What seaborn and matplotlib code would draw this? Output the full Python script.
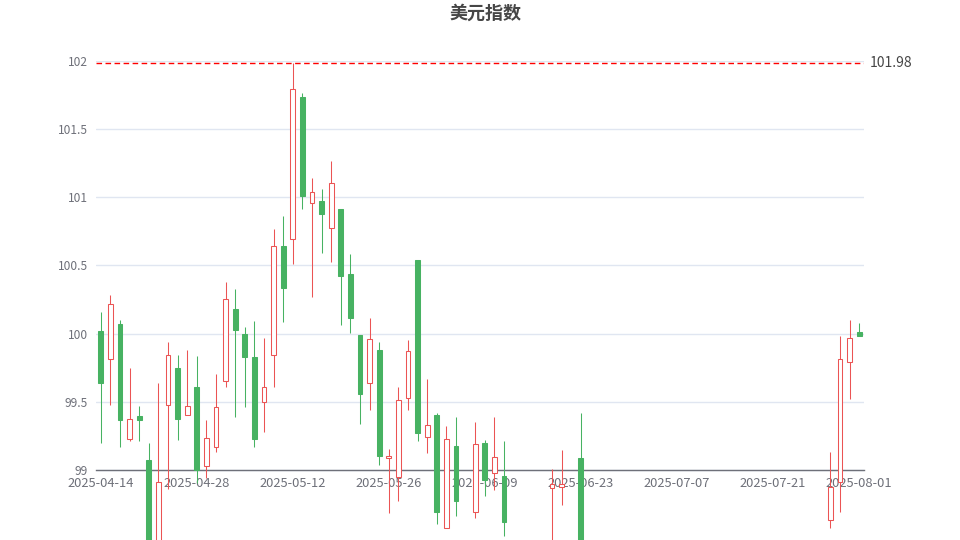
import numpy as np
import pandas as pd
import seaborn as sns
import matplotlib.pyplot as plt
from matplotlib.transforms import blended_transform_factory

# ===============================
# Data: US dollar index daily candles
# None = candle not visible in the picture (outside the drawn range)
# ===============================
dates = pd.bdate_range("2025-04-14", "2025-08-01").strftime("%Y-%m-%d").tolist()

open_ = [100.02, 99.81, 100.07, 99.23, 99.395, 99.075, 98.30, 99.475, 99.745, 99.405,
         99.61, 99.03, 99.165, 99.65, 100.18, 100.00, 99.83, 99.50, 99.845, 100.645,
         100.69, 101.735, 100.955, 100.975, 100.775, 100.91, 100.435, 99.99, 99.64, 99.88,
         99.085, 98.95, 99.525, 100.54, 99.24, 99.405, 98.575, 99.175, None, 98.69,
         99.195, 98.975, 98.955, None, None, None, None, 98.865, 98.875, None,
         99.09, None, None, None, None, None, None, None, None, None,
         None, None, None, None, None, None, None, None, None, None,
         None, None, None, None, None, None, 98.63, 98.915, 99.795, 100.01]

high = [100.16, 100.28, 100.10, 99.745, 99.47, 99.20, 99.64, 99.935, 99.84, 99.88,
        99.835, 99.37, 99.705, 100.375, 100.33, 100.045, 100.095, 99.97, 100.765, 100.865,
        101.98, 101.765, 101.14, 101.06, 101.265, 100.91, 100.58, 99.99, 100.115, 99.94,
        99.155, 99.61, 99.955, 100.54, 99.665, 99.415, 99.325, 99.39, None, 99.35,
        99.22, 99.385, 99.215, None, None, None, None, 99.005, 99.15, None,
        99.415, None, None, None, None, None, None, None, None, None,
        None, None, None, None, None, None, None, None, None, None,
        None, None, None, None, None, None, 99.135, 99.98, 100.10, 100.08]

low = [99.20, 99.48, 99.17, 99.21, 99.21, 97.92, 98.25, 98.86, 99.22, 99.40,
       98.905, 98.945, 99.135, 99.61, 99.39, 99.46, 99.17, 99.28, 99.605, 100.085,
       100.51, 100.915, 100.27, 100.59, 100.525, 100.065, 100.005, 99.335, 99.44, 99.04,
       98.685, 98.77, 99.44, 99.215, 99.125, 98.605, 98.575, 98.665, None, 98.65,
       98.81, 98.855, 98.515, None, None, None, None, 98.40, 98.745, None,
       98.30, None, None, None, None, None, None, None, None, None,
       None, None, None, None, None, None, None, None, None, None,
       None, None, None, None, None, None, 98.575, 98.695, 99.52, 99.985]

close = [99.635, 100.22, 99.37, 99.375, 99.37, 98.35, 98.91, 99.845, 99.375, 99.47,
         99.00, 99.235, 99.465, 100.25, 100.025, 99.825, 99.23, 99.61, 100.64, 100.335,
         101.795, 101.005, 101.04, 100.88, 101.10, 100.425, 100.115, 99.555, 99.96, 99.105,
         99.105, 99.515, 99.875, 99.27, 99.33, 98.695, 99.225, 98.775, None, 99.19,
         98.93, 99.095, 98.62, None, None, None, None, 98.90, 98.90, None,
         98.43, None, None, None, None, None, None, None, None, None,
         None, None, None, None, None, None, None, None, None, None,
         None, None, None, None, None, None, 98.875, 99.815, 99.97, 99.985]

y_ticks = [99, 99.5, 100, 100.5, 101, 101.5, 102]
label_every = 10

df = pd.DataFrame({"date": dates, "open": open_, "high": high,
                   "low": low, "close": close}, dtype=object)
for c in ["open", "high", "low", "close"]:
    df[c] = pd.to_numeric(df[c])
df["x"] = np.arange(len(df))
df = df.dropna()
max_high = df["high"].max()

up = df[df["close"] >= df["open"]]
down = df[df["close"] < df["open"]]

# ===============================
# Style
# ===============================
sns.set_theme(style="white")
plt.rcParams["font.family"] = ["Noto Sans CJK SC", "DejaVu Sans"]

RED = "#eb5454"
GREEN = "#47b262"
AXIS = "#6E7079"
GRID = "#E0E6F1"

fig = plt.figure(figsize=(9.6, 5.4), dpi=100)
# axes spans x 96..864 px, y from 102 (60.7px) down to the bottom edge
ax = fig.add_axes([96 / 960, 0, 768 / 960, (540 - 60.7) / 540])
px_per_unit = (470 - 60.7) / 3
ax.set_ylim(99 - 70 / px_per_unit, 102)
ax.set_xlim(-0.5, len(dates) - 0.5)

# ===============================
# Candles
# ===============================
lw = 0.75
ax.vlines(up["x"], up["low"], up["high"], color=RED, lw=lw, zorder=3)
ax.vlines(down["x"], down["low"], down["high"], color=GREEN, lw=lw, zorder=3)
ax.bar(up["x"], up["close"] - up["open"], bottom=up["open"], width=0.5,
       facecolor="white", edgecolor=RED, linewidth=lw, zorder=4)
ax.bar(down["x"], down["open"] - down["close"], bottom=down["close"], width=0.5,
       facecolor=GREEN, edgecolor=GREEN, linewidth=lw, zorder=4)

# max mark line
ax.axhline(max_high, color="red", lw=1, dashes=(4, 2.5), zorder=5)
trans = blended_transform_factory(ax.transAxes, ax.transData)
ax.text(1 + 6 / 768, max_high, f"{max_high:.2f}", transform=trans,
        ha="left", va="center", fontsize=10, color="#464646", clip_on=False)

# ===============================
# Axes
# ===============================
for s in ["top", "left", "right"]:
    ax.spines[s].set_visible(False)
ax.spines["bottom"].set_position(("data", 99))
ax.spines["bottom"].set_color(AXIS)
ax.spines["bottom"].set_linewidth(1)

ax.set_yticks(y_ticks)
ax.set_yticklabels([f"{v:g}" for v in y_ticks])
ax.tick_params(axis="y", length=0, pad=5.8, labelsize=8.6, labelcolor=AXIS)
ax.yaxis.grid(True, color=GRID, lw=1)
ax.set_axisbelow(True)

label_idx = list(range(0, len(dates), label_every)) + [len(dates) - 1]
ax.set_xticks(label_idx)
ax.set_xticklabels([dates[i] for i in label_idx])
ax.set_xticks([i - 0.5 for i in label_idx] + [len(dates) - 0.5], minor=True)
ax.tick_params(axis="x", which="major", length=0, pad=5, labelsize=9.3, labelcolor=AXIS)
ax.tick_params(axis="x", which="minor", length=3.6, width=0.75, color=AXIS, direction="out")
ax.xaxis.grid(False)

fig.text(485 / 960, 1 - 13.5 / 540, "美元指数", ha="center", va="center",
         fontsize=13, fontweight="bold", color="#464646")

fig.savefig("out.png", dpi=100)
